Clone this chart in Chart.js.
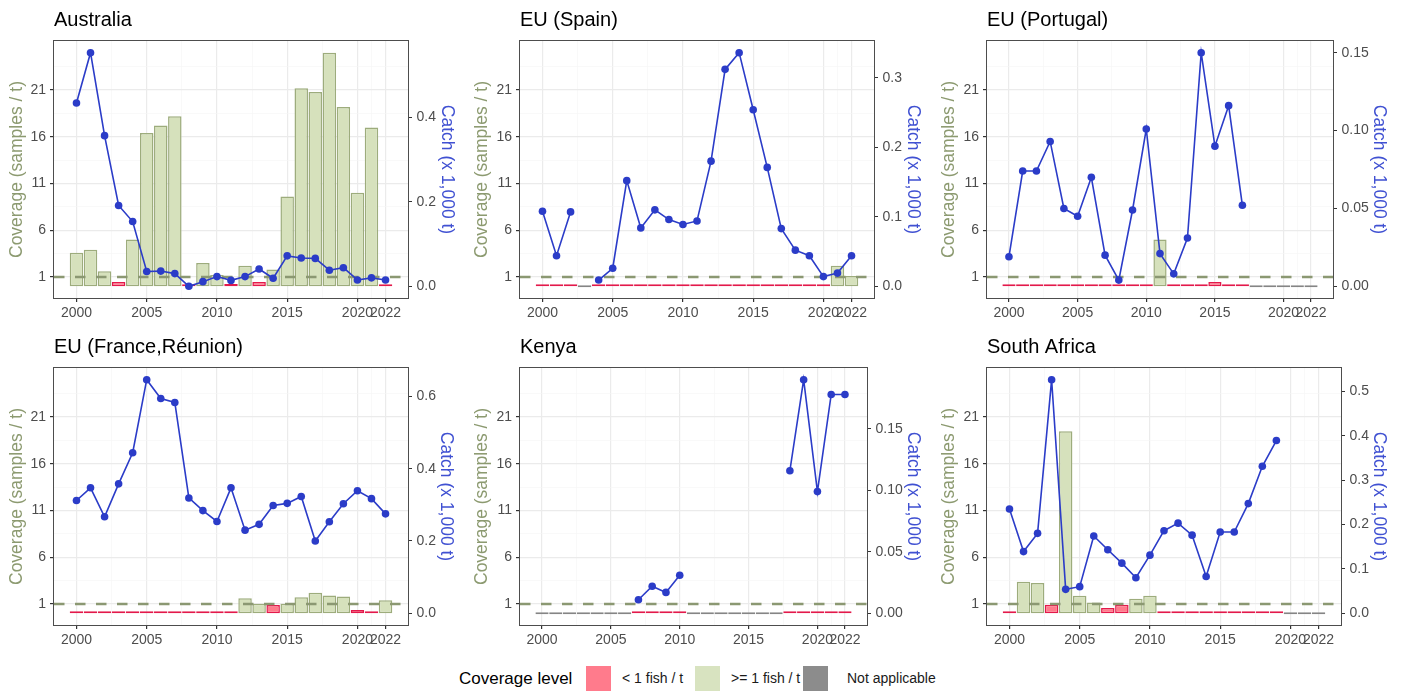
<!DOCTYPE html>
<html lang="en">
<head>
<meta charset="utf-8">
<title>Coverage and catch</title>
<script src="https://cdn.jsdelivr.net/npm/chart.js@4.4.1/dist/chart.umd.min.js"></script>
<style>
  body { margin: 0; background: #fff; font-family: "Liberation Sans", Arial, sans-serif; }
  #figura { position: relative; width: 1404px; height: 691px; overflow: hidden; background: #fff; }
  #figura canvas { position: absolute; }
  .leg-texto { position: absolute; line-height: 25px; top: 666px; color: #1a1a1a; white-space: nowrap; }
  .leg-chave { position: absolute; top: 666px; width: 25px; height: 25px; }
</style>
</head>
<body>
<div id="figura">
  <div class="leg-texto" style="left:459px; font-size:17px; color:#000;">Coverage level</div>
  <div class="leg-chave" style="left:586px; background:#ff7b8c;"></div>
  <div class="leg-texto" style="left:622px; font-size:14px;">&lt; 1 fish / t</div>
  <div class="leg-chave" style="left:695px; background:#d8e3c0;"></div>
  <div class="leg-texto" style="left:731px; font-size:14px;">&gt;= 1 fish / t</div>
  <div class="leg-chave" style="left:803px; background:#8c8c8c;"></div>
  <div class="leg-texto" style="left:847px; font-size:14px;">Not applicable</div>
</div>
<script>
// ========== DADOS ==========
const anos = [2000, 2001, 2002, 2003, 2004, 2005, 2006, 2007, 2008, 2009, 2010, 2011,
  2012, 2013, 2014, 2015, 2016, 2017, 2018, 2019, 2020, 2021, 2022];

const ticksCobertura = [1, 6, 11, 16, 21];
const gradeMenorCobertura = [3.5, 8.5, 13.5, 18.5, 23.5];
const ticksAnos = [2000, 2005, 2010, 2015, 2020, 2022];
const gradeMenorAnos = [2002.5, 2007.5, 2012.5, 2017.5, 2021];
const limiarCobertura = 1;

// nivel: "lt1" = < 1 fish / t, "ge1" = >= 1 fish / t, "na" = Not applicable
const coberturaAustralia = [3.6, 3.9, 1.6, 0.45, 5.0, 16.4, 17.2, 18.2, 0.05, 2.5, 1.2, 0.25,
  2.2, 0.45, 1.8, 9.6, 21.2, 20.8, 25.0, 19.2, 10.0, 17.0, 0.05];
const nivelAustralia = ["ge1", "ge1", "ge1", "lt1", "ge1", "ge1", "ge1", "ge1", "lt1", "ge1", "ge1", "lt1",
  "ge1", "lt1", "ge1", "ge1", "ge1", "ge1", "ge1", "ge1", "ge1", "ge1", "lt1"];
const capturaAustralia = [0.433, 0.552, 0.356, 0.191, 0.153, 0.035, 0.036, 0.030, 0.0, 0.011, 0.023, 0.014,
  0.023, 0.041, 0.019, 0.072, 0.067, 0.066, 0.038, 0.044, 0.015, 0.020, 0.015];
const ticksCapturaAustralia = [0, 0.2, 0.4];

const coberturaEspanha = [0.05, 0.05, 0.05, 0, 0.05, 0.05, 0.05, 0.05, 0.05, 0.05, 0.1, 0.05,
  0.05, 0.05, 0.08, 0.05, 0.2, 0.1, 0.05, 0.05, 0.05, 2.2, 1.1];
const nivelEspanha = ["lt1", "lt1", "lt1", "na", "lt1", "lt1", "lt1", "lt1", "lt1", "lt1", "lt1", "lt1",
  "lt1", "lt1", "lt1", "lt1", "lt1", "lt1", "lt1", "lt1", "lt1", "ge1", "ge1"];
const capturaEspanha = [0.108, 0.044, 0.107, null, 0.009, 0.026, 0.152, 0.084, 0.110, 0.096, 0.089, 0.094,
  0.180, 0.312, 0.336, 0.254, 0.171, 0.083, 0.052, 0.044, 0.014, 0.019, 0.044];
const ticksCapturaEspanha = [0, 0.1, 0.2, 0.3];

const coberturaPortugal = [0.05, 0.05, 0.05, 0.05, 0.05, 0.05, 0.05, 0.05, 0.05, 0.05, 0.05, 5.0,
  0.05, 0.1, 0.05, 0.45, 0.05, 0.05, 0, 0, 0, 0, 0];
const nivelPortugal = ["lt1", "lt1", "lt1", "lt1", "lt1", "lt1", "lt1", "lt1", "lt1", "lt1", "lt1", "ge1",
  "lt1", "lt1", "lt1", "lt1", "lt1", "lt1", "na", "na", "na", "na", "na"];
const capturaPortugal = [0.019, 0.074, 0.074, 0.093, 0.050, 0.045, 0.070, 0.020, 0.004, 0.049, 0.101, 0.021,
  0.008, 0.031, 0.150, 0.090, 0.116, 0.052, null, null, null, null, null];
const ticksCapturaPortugal = [0, 0.05, 0.10, 0.15];

const coberturaFranca = [0.05, 0.05, 0.05, 0.05, 0.05, 0.05, 0.05, 0.05, 0.05, 0.05, 0.05, 0.05,
  1.62, 1.02, 0.88, 1.02, 1.73, 2.19, 1.90, 1.80, 0.35, 0.05, 1.41];
const nivelFranca = ["lt1", "lt1", "lt1", "lt1", "lt1", "lt1", "lt1", "lt1", "lt1", "lt1", "lt1", "lt1",
  "ge1", "ge1", "lt1", "ge1", "ge1", "ge1", "ge1", "ge1", "lt1", "lt1", "ge1"];
const capturaFranca = [0.312, 0.347, 0.267, 0.358, 0.444, 0.646, 0.594, 0.583, 0.319, 0.284, 0.254, 0.347,
  0.230, 0.246, 0.298, 0.304, 0.323, 0.200, 0.253, 0.303, 0.339, 0.317, 0.275];
const ticksCapturaFranca = [0, 0.2, 0.4, 0.6];

const coberturaQuenia = [0, 0, 0, 0, 0, 0, 0, 0.05, 0.05, 0.05, 0.05, 0,
  0, 0, 0, 0, 0, 0, 0.05, 0.05, 0.05, 0.05, 0.05];
const nivelQuenia = ["na", "na", "na", "na", "na", "na", "na", "lt1", "lt1", "lt1", "lt1", "na",
  "na", "na", "na", "na", "na", "na", "lt1", "lt1", "lt1", "lt1", "lt1"];
const capturaQuenia = [null, null, null, null, null, null, null, 0.011, 0.022, 0.017, 0.031, null,
  null, null, null, null, null, null, 0.116, 0.190, 0.099, 0.178, 0.178];
const ticksCapturaQuenia = [0, 0.05, 0.10, 0.15];

const coberturaAfricaSul = [0.05, 3.39, 3.25, 0.92, 19.47, 1.87, 1.16, 0.56, 0.92, 1.55, 1.87, 0.05,
  0.05, 0.05, 0.05, 0.05, 0.05, 0.05, 0.05, 0.05, 0, 0, 0];
const nivelAfricaSul = ["lt1", "ge1", "ge1", "lt1", "ge1", "ge1", "ge1", "lt1", "lt1", "ge1", "ge1", "lt1",
  "lt1", "lt1", "lt1", "lt1", "lt1", "lt1", "lt1", "lt1", "na", "na", "na"];
const capturaAfricaSul = [0.235, 0.139, 0.180, 0.526, 0.054, 0.060, 0.174, 0.143, 0.113, 0.080, 0.131, 0.186,
  0.203, 0.176, 0.083, 0.183, 0.183, 0.247, 0.331, 0.389, null, null, null];
const ticksCapturaAfricaSul = [0, 0.1, 0.2, 0.3, 0.4, 0.5];

const paineis = [
  { titulo: "Australia", cobertura: coberturaAustralia, nivel: nivelAustralia, captura: capturaAustralia, ticksCaptura: ticksCapturaAustralia, casas: 1 },
  { titulo: "EU (Spain)", cobertura: coberturaEspanha, nivel: nivelEspanha, captura: capturaEspanha, ticksCaptura: ticksCapturaEspanha, casas: 1 },
  { titulo: "EU (Portugal)", cobertura: coberturaPortugal, nivel: nivelPortugal, captura: capturaPortugal, ticksCaptura: ticksCapturaPortugal, casas: 2 },
  { titulo: "EU (France,Réunion)", cobertura: coberturaFranca, nivel: nivelFranca, captura: capturaFranca, ticksCaptura: ticksCapturaFranca, casas: 1 },
  { titulo: "Kenya", cobertura: coberturaQuenia, nivel: nivelQuenia, captura: capturaQuenia, ticksCaptura: ticksCapturaQuenia, casas: 2 },
  { titulo: "South Africa", cobertura: coberturaAfricaSul, nivel: nivelAfricaSul, captura: capturaAfricaSul, ticksCaptura: ticksCapturaAfricaSul, casas: 1 },
];

// ========== POSICOES E ESTILO ==========
const posicoes = [
  { left: 0, top: 0, width: 464, yW: 54, y2W: 56 },
  { left: 465, top: 0, width: 465, yW: 55, y2W: 56 },
  { left: 932, top: 0, width: 464, yW: 55, y2W: 63 },
  { left: 0, top: 327, width: 463, yW: 54, y2W: 55 },
  { left: 465, top: 327, width: 465, yW: 55, y2W: 63 },
  { left: 932, top: 327, width: 464, yW: 55, y2W: 55 },
];
const alturaCanvas = 320;
const topoArea = 41;
const alturaEixoX = 22;

const coresNivel = {
  lt1: { fundo: "#ff7b8c", borda: "#e3194b" },
  ge1: { fundo: "#d6e1bc", borda: "#9dac7c" },
  na: { fundo: "#8c8c8c", borda: "#858585" },
};
const corCaptura = "#2b3cc8";
const fonte = '"Liberation Sans", Arial, sans-serif';

Chart.defaults.font.family = fonte;
Chart.defaults.animation = false;

// escala comum: a maior cobertura define o topo de todos os paineis
const coberturaMax = Math.max(...paineis.flatMap((p) => p.cobertura));
const yMin = -0.05 * coberturaMax;
const yMax = 1.05 * coberturaMax;

// ========== PLUGINS ==========
const pluginPainel = {
  id: "pluginPainel",
  afterDatasetDraw(chart, args) {
    if (args.meta.type !== "bar") return;
    // linha tracejada do limiar de 1 fish / t
    const { ctx, chartArea, scales } = chart;
    const y = scales.y.getPixelForValue(limiarCobertura);
    ctx.save();
    ctx.beginPath();
    ctx.setLineDash([10.5, 10.5]);
    ctx.lineWidth = 2.4;
    ctx.strokeStyle = "#8b9872";
    ctx.moveTo(chartArea.left, y);
    ctx.lineTo(chartArea.right, y);
    ctx.stroke();
    ctx.restore();
  },
  afterDraw(chart) {
    const { ctx, chartArea } = chart;
    ctx.save();
    ctx.strokeStyle = "#4d4d4d";
    ctx.lineWidth = 1;
    ctx.strokeRect(Math.round(chartArea.left) - 0.5, Math.round(chartArea.top) - 0.5,
      Math.round(chartArea.right - chartArea.left) + 1, Math.round(chartArea.bottom - chartArea.top) + 1);
    // titulo do painel alinhado com a area do grafico
    ctx.fillStyle = "#000";
    ctx.font = "20px " + fonte;
    ctx.textBaseline = "alphabetic";
    ctx.textAlign = "left";
    ctx.fillText(chart.options.plugins.pluginPainel.titulo, chartArea.left, chartArea.top - 15);
    ctx.restore();
  },
};

function corGrade(principais) {
  return (c) => (c.tick && principais.includes(c.tick.value) ? "#ebebeb" : "#f5f5f5");
}
function larguraGrade(principais) {
  return (c) => (c.tick && principais.includes(c.tick.value) ? 1.2 : 0.6);
}
function corMarca(principais) {
  return (c) => (c.tick && principais.includes(c.tick.value) ? "#333333" : "rgba(0,0,0,0)");
}

// ========== CRIAR CADA PAINEL ==========
function criarPainel(painel, pos) {
  const canvas = document.createElement("canvas");
  canvas.width = pos.width;
  canvas.height = alturaCanvas;
  canvas.style.left = pos.left + "px";
  canvas.style.top = pos.top + "px";
  canvas.style.width = pos.width + "px";
  canvas.style.height = alturaCanvas + "px";
  document.getElementById("figura").appendChild(canvas);

  const capturaMax = Math.max(...painel.captura.filter((v) => v !== null));
  const fator = capturaMax / coberturaMax;

  new Chart(canvas.getContext("2d"), {
    type: "bar",
    data: {
      datasets: [
        {
          type: "line",
          label: "Catch",
          data: anos.map((a, i) => ({ x: a, y: painel.captura[i] })),
          yAxisID: "y2",
          borderColor: corCaptura,
          backgroundColor: corCaptura,
          borderWidth: 1.6,
          pointRadius: 3.8,
          pointBorderWidth: 0,
          pointBackgroundColor: corCaptura,
          spanGaps: false,
          order: 1,
        },
        {
          type: "bar",
          label: "Coverage",
          data: anos.map((a, i) => ({ x: a, y: painel.cobertura[i] })),
          yAxisID: "y",
          backgroundColor: painel.nivel.map((n) => coresNivel[n].fundo),
          borderColor: painel.nivel.map((n) => coresNivel[n].borda),
          borderWidth: 1.5,
          borderSkipped: false,
          minBarLength: 2,
          barPercentage: 0.96,
          categoryPercentage: 1,
          grouped: false,
          order: 2,
        },
      ],
    },
    options: {
      responsive: false,
      devicePixelRatio: 1,
      layout: { padding: { top: topoArea, left: 0, right: 0, bottom: 0 } },
      plugins: {
        legend: { display: false },
        tooltip: { enabled: false },
        pluginPainel: { titulo: painel.titulo },
      },
      scales: {
        x: {
          type: "linear",
          min: 1998.4,
          max: 2023.6,
          offset: false,
          afterBuildTicks: (s) => {
            s.ticks = ticksAnos.concat(gradeMenorAnos).sort((a, b) => a - b).map((v) => ({ value: v }));
          },
          afterFit: (s) => { s.height = alturaEixoX; },
          ticks: {
            autoSkip: false,
            maxRotation: 0,
            color: "#4d4d4d",
            font: { size: 14 },
            padding: 3,
            callback: (v) => (ticksAnos.includes(v) ? String(v) : ""),
          },
          grid: {
            offset: false,
            color: corGrade(ticksAnos),
            lineWidth: larguraGrade(ticksAnos),
            tickColor: corMarca(ticksAnos),
            tickLength: 4,
          },
          border: { display: false },
        },
        y: {
          type: "linear",
          position: "left",
          min: yMin,
          max: yMax,
          afterBuildTicks: (s) => {
            s.ticks = ticksCobertura.concat(gradeMenorCobertura).sort((a, b) => a - b).map((v) => ({ value: v }));
          },
          afterFit: (s) => { s.width = pos.yW; },
          ticks: {
            color: "#4d4d4d",
            font: { size: 14 },
            padding: 4,
            callback: (v) => (ticksCobertura.includes(v) ? String(v) : ""),
          },
          grid: {
            color: corGrade(ticksCobertura),
            lineWidth: larguraGrade(ticksCobertura),
            tickColor: corMarca(ticksCobertura),
            tickLength: 4,
          },
          border: { display: false },
          title: {
            display: true,
            text: "Coverage (samples / t)",
            color: "#8c9a70",
            font: { size: 17.5 },
            padding: { top: 6.5, bottom: 0 },
          },
        },
        y2: {
          type: "linear",
          position: "right",
          min: yMin * fator,
          max: yMax * fator,
          afterBuildTicks: (s) => {
            s.ticks = painel.ticksCaptura.map((v) => ({ value: v }));
          },
          afterFit: (s) => { s.width = pos.y2W; },
          ticks: {
            color: "#4d4d4d",
            font: { size: 14 },
            padding: 4.5,
            callback: (v) => v.toFixed(painel.casas),
          },
          grid: {
            drawOnChartArea: false,
            tickColor: "#333333",
            tickLength: 4,
          },
          border: { display: false },
          title: {
            display: true,
            text: "Catch (x 1,000 t)",
            color: "#4051d2",
            font: { size: 17.5 },
            padding: { top: 6.5, bottom: 0 },
          },
        },
      },
    },
    plugins: [pluginPainel],
  });
}

// ========== INICIALIZACAO ==========
paineis.forEach((p, i) => criarPainel(p, posicoes[i]));
</script>
</body>
</html>
